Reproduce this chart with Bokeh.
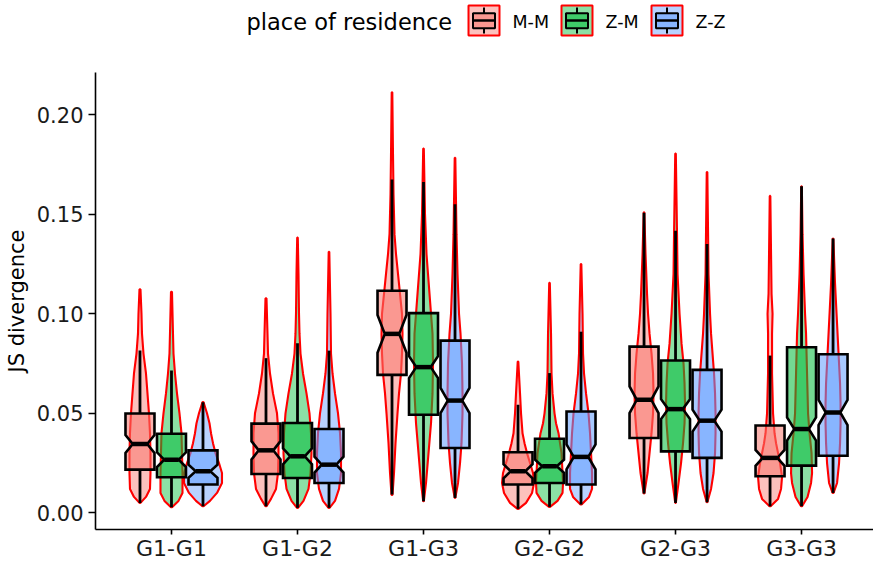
from bokeh.plotting import figure
from bokeh.models import Range1d, FixedTicker, NumeralTickFormatter
from bokeh.layouts import column
from bokeh.embed import file_html
from bokeh.resources import INLINE
from bokeh.core.properties import value

# ---------------- data ----------------
categories = ["G1-G1", "G1-G2", "G1-G3", "G2-G2", "G2-G3", "G3-G3"]
groups = ["M-M", "Z-M", "Z-Z"]

# box statistics per group (one value per category)
whisker_low_mm = [0.0050, 0.0033, 0.0092, 0.0020, 0.0097, 0.0033]
q1_mm = [0.0217, 0.0195, 0.0693, 0.0142, 0.0376, 0.0184]
median_mm = [0.0346, 0.0314, 0.0899, 0.0209, 0.0568, 0.0276]
q3_mm = [0.0499, 0.0448, 0.1116, 0.0304, 0.0835, 0.0439]
whisker_high_mm = [0.0815, 0.0777, 0.1674, 0.0543, 0.1507, 0.0790]
notch_mm = [0.0045, 0.0046, 0.0095, 0.0035, 0.0067, 0.0040]

whisker_low_zm = [0.0028, 0.0025, 0.0058, 0.0030, 0.0050, 0.0033]
q1_zm = [0.0179, 0.0175, 0.0493, 0.0150, 0.0309, 0.0237]
median_zm = [0.0267, 0.0284, 0.0732, 0.0234, 0.0521, 0.0421]
q3_zm = [0.0397, 0.0451, 0.1003, 0.0372, 0.0765, 0.0832]
whisker_high_zm = [0.0715, 0.0852, 0.1662, 0.0702, 0.1417, 0.1640]
notch_zm = [0.0037, 0.0040, 0.0055, 0.0033, 0.0050, 0.0058]

whisker_low_zz = [0.0033, 0.0025, 0.0075, 0.0042, 0.0053, 0.0100]
q1_zz = [0.0142, 0.0150, 0.0326, 0.0142, 0.0276, 0.0287]
median_zz = [0.0209, 0.0242, 0.0564, 0.0281, 0.0463, 0.0504]
q3_zz = [0.0314, 0.0421, 0.0865, 0.0509, 0.0718, 0.0797]
whisker_high_zz = [0.0556, 0.0815, 0.1550, 0.0910, 0.1350, 0.1378]
notch_zz = [0.0033, 0.0040, 0.0063, 0.0063, 0.0055, 0.0063]

# violin density profiles (value levels and relative density) per group / category
violin_y_mm = [
    [0.005, 0.008, 0.012, 0.02, 0.03, 0.04, 0.05, 0.06, 0.07, 0.08, 0.09, 0.10, 0.1123],
    [0.0033, 0.007, 0.012, 0.02, 0.03, 0.04, 0.05, 0.055, 0.06, 0.07, 0.08, 0.09, 0.1078],
    [0.009, 0.02, 0.035, 0.05, 0.06, 0.07, 0.08, 0.09, 0.10, 0.11, 0.12, 0.13, 0.14, 0.16, 0.18, 0.2113],
    [0.002, 0.005, 0.01, 0.015, 0.02, 0.025, 0.03, 0.035, 0.04, 0.05, 0.06, 0.076],
    [0.0097, 0.02, 0.03, 0.04, 0.05, 0.06, 0.07, 0.08, 0.09, 0.10, 0.11, 0.13, 0.151],
    [0.0033, 0.007, 0.012, 0.018, 0.025, 0.03, 0.035, 0.04, 0.05, 0.06, 0.07, 0.09, 0.10, 0.11, 0.13, 0.1592],
]
violin_d_mm = [
    [0.5, 6, 10, 10.5, 10.5, 10, 9, 7.5, 6, 3.5, 2, 1.5, 0.5],
    [0.5, 5, 10, 12, 12.5, 12.5, 11, 9, 7, 4, 2, 1.5, 0.5],
    [0.5, 2, 3.5, 5.5, 7, 9, 10, 10.5, 10, 8, 6, 4, 2.5, 1.5, 1, 0.3],
    [0.5, 8, 14, 16, 15, 12, 9, 6.5, 4.5, 3, 2, 0.3],
    [0.3, 3.5, 5.5, 7.5, 9, 9.5, 9, 7.5, 5.5, 4, 3, 1.5, 0.3],
    [0.5, 8, 11, 12, 10, 8, 6, 4.5, 3, 2.5, 2, 2, 2.5, 1.5, 1, 0.3],
]
violin_y_zm = [
    [0.0028, 0.006, 0.01, 0.02, 0.03, 0.04, 0.05, 0.06, 0.07, 0.08, 0.09, 0.111],
    [0.0025, 0.006, 0.012, 0.02, 0.03, 0.04, 0.05, 0.06, 0.07, 0.08, 0.09, 0.10, 0.12, 0.1383],
    [0.0058, 0.015, 0.03, 0.045, 0.06, 0.075, 0.09, 0.10, 0.11, 0.12, 0.13, 0.15, 0.183],
    [0.003, 0.006, 0.01, 0.015, 0.02, 0.03, 0.04, 0.045, 0.05, 0.06, 0.07, 0.09, 0.1156],
    [0.005, 0.015, 0.025, 0.035, 0.045, 0.055, 0.065, 0.075, 0.085, 0.10, 0.12, 0.14, 0.1805],
    [0.0033, 0.008, 0.015, 0.02, 0.03, 0.04, 0.05, 0.06, 0.07, 0.08, 0.09, 0.10, 0.12, 0.14, 0.164],
]
violin_d_zm = [
    [0.5, 7, 11, 11, 10.5, 10, 8, 5.5, 3.5, 2, 1.5, 0.5],
    [0.5, 6, 11, 13, 14, 13.5, 12, 9, 5.5, 3, 2, 1.5, 1, 0.3],
    [0.3, 2.5, 5, 7.5, 9, 9.5, 9, 7.5, 6, 4.5, 3, 1.5, 0.3],
    [0.5, 8, 13, 13.5, 13, 12, 9, 6.5, 5, 3, 2, 1.5, 0.3],
    [0.3, 3, 5.5, 7.5, 9, 9.5, 9, 8, 6, 4, 2, 1.5, 0.3],
    [0.5, 6, 9.5, 10.5, 10, 8, 6.5, 6, 5.5, 5, 4.5, 3.5, 2, 1, 0.3],
]
violin_y_zz = [
    [0.0033, 0.006, 0.01, 0.015, 0.02, 0.025, 0.03, 0.035, 0.04, 0.045, 0.05, 0.0556],
    [0.0025, 0.006, 0.012, 0.02, 0.03, 0.04, 0.05, 0.06, 0.07, 0.08, 0.10, 0.1311],
    [0.0075, 0.015, 0.025, 0.035, 0.05, 0.06, 0.075, 0.09, 0.10, 0.12, 0.14, 0.1784],
    [0.0042, 0.008, 0.012, 0.02, 0.03, 0.04, 0.05, 0.06, 0.07, 0.08, 0.10, 0.125],
    [0.0053, 0.012, 0.02, 0.03, 0.04, 0.05, 0.06, 0.07, 0.08, 0.09, 0.10, 0.12, 0.1712],
    [0.010, 0.015, 0.025, 0.035, 0.045, 0.055, 0.065, 0.075, 0.085, 0.10, 0.115, 0.1378],
]
violin_d_zz = [
    [0.5, 7, 14, 19, 19, 16, 12.5, 10, 8, 6.5, 4, 0.5],
    [0.5, 6, 10, 12, 12, 11, 9, 6, 3.5, 2, 1.5, 0.3],
    [0.3, 3, 5, 6.5, 7.5, 7.5, 7, 5.5, 4, 2.5, 1.5, 0.3],
    [0.5, 8, 11, 11, 10, 9, 7.5, 5, 3, 2, 1.5, 0.3],
    [0.3, 4, 6.5, 8, 8.5, 8.5, 8, 7, 5.5, 4, 3, 1.5, 0.3],
    [0.5, 4, 6, 7, 7.5, 7.5, 7, 6, 5, 3.5, 2, 0.3],
]

y_ticks = [0.00, 0.05, 0.10, 0.15, 0.20]

# ---------------- styles ----------------
colors = ["#F8766D", "#00BA38", "#619CFF"]
FONT = "DejaVu Sans"
dodge = 0.25
box_half = 0.115
violin_scale = 1.0 / 126.0
violin_alpha = 0.45
box_alpha = 0.55

stats = [
    (whisker_low_mm, q1_mm, median_mm, q3_mm, whisker_high_mm, notch_mm, violin_y_mm, violin_d_mm),
    (whisker_low_zm, q1_zm, median_zm, q3_zm, whisker_high_zm, notch_zm, violin_y_zm, violin_d_zm),
    (whisker_low_zz, q1_zz, median_zz, q3_zz, whisker_high_zz, notch_zz, violin_y_zz, violin_d_zz),
]

p = figure(width=873, height=513, output_backend="svg", toolbar_location=None,
           x_range=Range1d(0.397, 6.571), y_range=Range1d(-0.00837, 0.2212),
           min_border_left=95, min_border_right=0, min_border_top=22, min_border_bottom=33)
p.xgrid.visible = False
p.ygrid.visible = False
p.outline_line_color = None
p.background_fill_color = "white"

# violins
for gi, (wl, q1, med, q3, wh, nt, vy, vd) in enumerate(stats):
    xs, ys = [], []
    for ci in range(len(categories)):
        cx = ci + 1 + (gi - 1) * dodge
        dens = vd[ci]
        lev = vy[ci]
        xs.append([cx - d * violin_scale for d in dens] + [cx + d * violin_scale for d in reversed(dens)])
        ys.append(list(lev) + list(reversed(lev)))
    p.patches(xs, ys, fill_color=colors[gi], fill_alpha=violin_alpha,
              line_color="#FF0000", line_width=2.1)

# whiskers, boxes, medians
for gi, (wl, q1, med, q3, wh, nt, vy, vd) in enumerate(stats):
    cxs = [ci + 1 + (gi - 1) * dodge for ci in range(len(categories))]
    p.segment(cxs, q3, cxs, wh, line_color="black", line_width=2.8)
    p.segment(cxs, q1, cxs, wl, line_color="black", line_width=2.8)
    bxs, bys = [], []
    for ci, cx in enumerate(cxs):
        h = box_half
        bxs.append([cx - h, cx + h, cx + h, cx + h * 0.5, cx + h, cx + h, cx - h, cx - h, cx - h * 0.5, cx - h])
        bys.append([q3[ci], q3[ci], med[ci] + nt[ci], med[ci], med[ci] - nt[ci], q1[ci], q1[ci],
                    med[ci] - nt[ci], med[ci], med[ci] + nt[ci]])
    p.patches(bxs, bys, fill_color=colors[gi], fill_alpha=box_alpha,
              line_color="black", line_width=2.6, line_join="miter")
    p.segment([c - box_half * 0.5 for c in cxs], med, [c + box_half * 0.5 for c in cxs], med,
              line_color="black", line_width=4.5)

# axes
p.xaxis.ticker = FixedTicker(ticks=[i + 1 for i in range(len(categories))])
p.xaxis.major_label_overrides = {i + 1: c for i, c in enumerate(categories)}
p.yaxis.ticker = FixedTicker(ticks=y_ticks)
p.yaxis.formatter = NumeralTickFormatter(format="0.00")
p.yaxis.axis_label = "JS divergence"
for ax in (p.xaxis[0], p.yaxis[0]):
    ax.axis_line_color = "black"
    ax.axis_line_width = 1.6
    ax.major_tick_line_color = "black"
    ax.major_tick_line_width = 1.6
    ax.major_tick_in = 0
    ax.minor_tick_line_color = None
    ax.major_label_text_font = FONT
    ax.major_label_text_color = "#1a1a1a"
p.xaxis[0].major_tick_out = 5
p.xaxis[0].major_label_standoff = 1
p.xaxis[0].major_label_text_font_size = "22px"
p.yaxis[0].major_tick_out = 7
p.yaxis[0].major_label_standoff = 5
p.yaxis[0].major_label_text_font_size = "21px"
p.yaxis[0].axis_label_text_font = FONT
p.yaxis[0].axis_label_text_font_size = "21px"
p.yaxis[0].axis_label_text_font_style = "normal"
p.yaxis[0].axis_label_text_color = "black"
p.yaxis[0].axis_label_standoff = 5

# ---------------- legend (separate strip, frame aligned with the plot frame) ----------------
leg = figure(width=873, height=50, output_backend="svg", toolbar_location=None,
             x_range=Range1d(95, 873), y_range=Range1d(50, 0),
             x_axis_type=None, y_axis_type=None,
             min_border_left=95, min_border_right=0, min_border_top=0, min_border_bottom=0)
leg.xgrid.visible = False
leg.ygrid.visible = False
leg.outline_line_color = None
leg.text(x=[246], y=[21], text=["place of residence"], text_font=value(FONT),
         text_font_size="22.5px", text_baseline="middle", text_align="left", text_color="black")
key_left = [468, 561, 651]
for gi, g in enumerate(groups):
    kx = key_left[gi]
    leg.quad(left=[kx], right=[kx + 31], top=[5], bottom=[35], fill_color=colors[gi],
             fill_alpha=violin_alpha, line_color="#FF0000", line_width=2)
    leg.segment([kx + 15.5, kx + 15.5], [7, 27.7], [kx + 15.5, kx + 15.5], [12.7, 33],
                line_color="black", line_width=2)
    leg.quad(left=[kx + 4.5], right=[kx + 26.5], top=[12.7], bottom=[27.7], fill_color=colors[gi],
             fill_alpha=box_alpha, line_color="black", line_width=2)
    leg.segment([kx + 4.5], [20], [kx + 26.5], [20], line_color="black", line_width=2.5)
    leg.text(x=[kx + 44], y=[21], text=[g], text_font=value(FONT), text_font_size="17.5px",
             text_baseline="middle", text_align="left", text_color="black")

layout = column(leg, p, spacing=0)
open("out.html", "w").write(file_html(layout, INLINE))
